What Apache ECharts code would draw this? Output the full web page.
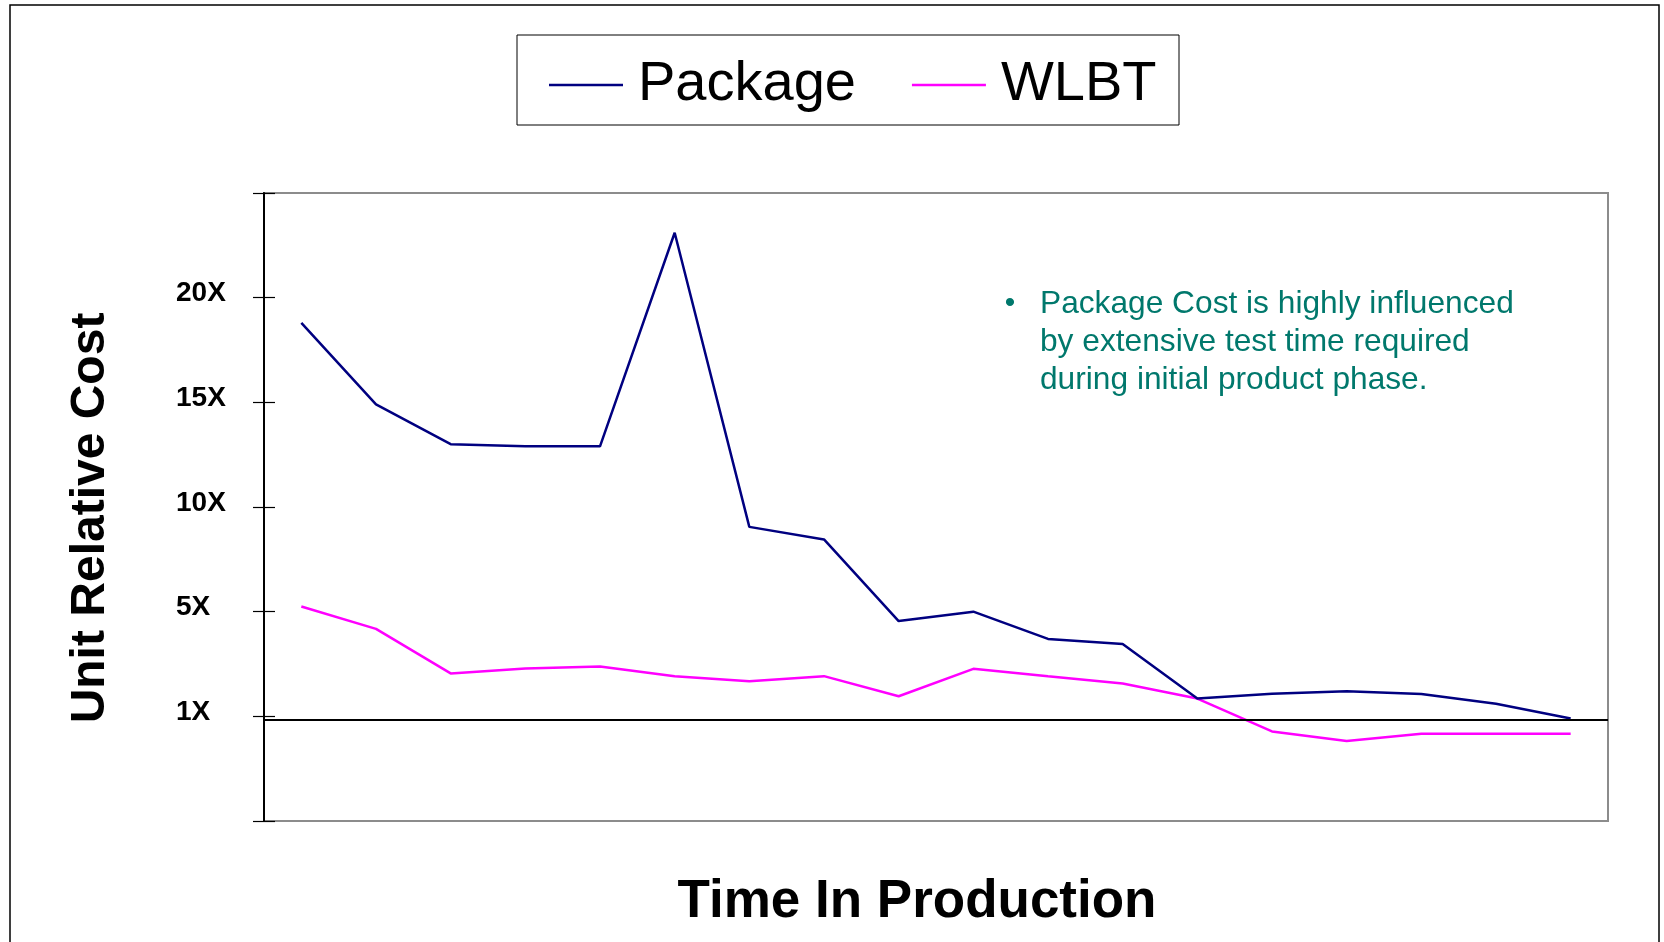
<!DOCTYPE html>
<html>
<head>
<meta charset="utf-8">
<script src="https://cdn.jsdelivr.net/npm/echarts@6/dist/echarts.min.js"></script>
<style>
  html, body { margin: 0; padding: 0; background: #fff; }
  #chart { width: 1664px; height: 942px; }
</style>
</head>
<body>
<div id="chart"></div>
<script>
// ---- data ----
var categories = ['T1','T2','T3','T4','T5','T6','T7','T8','T9','T10','T11','T12','T13','T14','T15','T16','T17','T18'];
var packageCost = [18.8, 14.9, 13.0, 12.9, 12.9, 23.1, 9.05, 8.45, 4.55, 5.0, 3.7, 3.45, 0.85, 1.08, 1.2, 1.07, 0.6, -0.1];
var wlbtCost = [5.25, 4.18, 2.05, 2.28, 2.38, 1.92, 1.68, 1.92, 0.96, 2.27, 1.91, 1.57, 0.85, -0.72, -1.18, -0.83, -0.83, -0.83];
var tickValues = [-5, 0, 5, 10, 15, 20, 25];
var tickLabels = ['', '1X', '5X', '10X', '15X', '20X', ''];
var baselineValue = -0.17;
var seriesNames = ['Package', 'WLBT'];
var yAxisTitle = 'Unit Relative Cost';
var xAxisTitle = 'Time In Production';
var noteLines = ['Package Cost is highly influenced', 'by extensive test time required', 'during initial product phase.'];

var FONT = '"Liberation Sans", Arial, Helvetica, sans-serif';
var chart = echarts.init(document.getElementById('chart'));

function labelFor(v) {
  var i = tickValues.indexOf(v);
  return i >= 0 ? tickLabels[i] : '';
}

var option = {
  backgroundColor: '#ffffff',
  animation: false,
  grid: {
    left: 264, right: 56, top: 193, bottom: 121,
    show: true, borderColor: '#8c8c8c', borderWidth: 2, backgroundColor: 'transparent'
  },
  legend: {
    data: [
      { name: seriesNames[0], icon: 'rect' },
      { name: seriesNames[1], icon: 'rect' }
    ],
    left: 544, top: 52,
    itemWidth: 74, itemHeight: 2.5, itemGap: 56,
    textStyle: { fontFamily: FONT, fontSize: 56, color: '#000', padding: [0, 0, 0, 10] }
  },
  xAxis: {
    type: 'category',
    data: categories,
    boundaryGap: true,
    axisLine: { show: false },
    axisTick: { show: false },
    axisLabel: { show: false },
    splitLine: { show: false }
  },
  yAxis: [
    {
      type: 'value', min: -5, max: 25, interval: 5, position: 'left',
      axisLine: { show: true, lineStyle: { color: '#000', width: 2 } },
      axisTick: { show: true, length: 11, lineStyle: { color: '#000', width: 1.2 } },
      axisLabel: {
        show: true, align: 'left', margin: 88, verticalAlign: 'bottom', lineHeight: 8,
        fontFamily: FONT, fontWeight: 'bold', fontSize: 28, color: '#000',
        formatter: function (v) { return labelFor(v); }
      },
      splitLine: { show: false }
    },
    {
      type: 'value', min: -5, max: 25, interval: 5, position: 'left',
      axisLine: { show: false },
      axisTick: { show: true, inside: true, length: 11, lineStyle: { color: '#000', width: 1.2 } },
      axisLabel: { show: false },
      splitLine: { show: false }
    }
  ],
  series: [
    {
      name: seriesNames[0], type: 'line', data: packageCost,
      symbol: 'none', lineStyle: { color: '#000080', width: 2.5 }, itemStyle: { color: '#000080' },
      z: 3,
      markLine: {
        silent: true, symbol: 'none', label: { show: false },
        lineStyle: { color: '#000', width: 2.2, type: 'solid' },
        data: [{ yAxis: baselineValue }]
      }
    },
    {
      name: seriesNames[1], type: 'line', data: wlbtCost,
      symbol: 'none', lineStyle: { color: '#ff00ff', width: 2.5 }, itemStyle: { color: '#ff00ff' },
      z: 2
    }
  ],
  graphic: [
    { type: 'rect', shape: { x: 10, y: 5, width: 1649, height: 1000 }, style: { fill: 'none', stroke: '#000', lineWidth: 1.5 }, silent: true, z: -1 },
    { type: 'rect', shape: { x: 517, y: 35, width: 662, height: 90 }, style: { fill: 'none', stroke: '#000', lineWidth: 1 }, silent: true },
    {
      type: 'text', x: 91, y: 518, rotation: Math.PI / 2,
      style: { text: yAxisTitle, font: 'bold 48px ' + FONT, fill: '#000', textAlign: 'center', textVerticalAlign: 'middle' }
    },
    {
      type: 'text', x: 917, y: 902,
      style: { text: xAxisTitle, font: 'bold 53px ' + FONT, fill: '#000', textAlign: 'center', textVerticalAlign: 'middle' }
    },
    {
      type: 'text', x: 1010, y: 304,
      style: { text: '\u2022', font: '30px ' + FONT, fill: '#00786c', textAlign: 'center', textVerticalAlign: 'middle' }
    },
    {
      type: 'text', x: 1040, y: 304,
      style: { text: noteLines[0], font: '31.7px ' + FONT, fill: '#00786c', textAlign: 'left', textVerticalAlign: 'middle' }
    },
    {
      type: 'text', x: 1040, y: 342,
      style: { text: noteLines[1], font: '31.7px ' + FONT, fill: '#00786c', textAlign: 'left', textVerticalAlign: 'middle' }
    },
    {
      type: 'text', x: 1040, y: 380,
      style: { text: noteLines[2], font: '31.7px ' + FONT, fill: '#00786c', textAlign: 'left', textVerticalAlign: 'middle' }
    }
  ]
};
chart.setOption(option);
</script>
</body>
</html>
